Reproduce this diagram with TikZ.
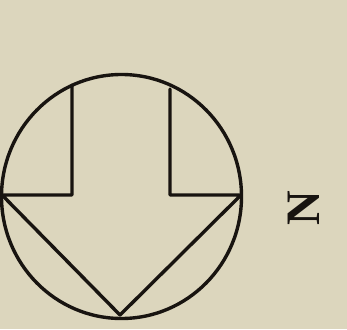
\documentclass[tikz,border=0pt]{standalone}
\usepackage{fontspec}
\setmainfont{Liberation Serif}
\definecolor{paper}{RGB}{220,214,189}
\definecolor{ink}{RGB}{24,20,16}
\begin{document}
\begin{tikzpicture}[x=1pt,y=-1pt,
  inkline/.style={draw=ink,line width=3.4pt,line join=round,line cap=round}]
\fill[paper] (0,0) rectangle (347,329);
\useasboundingbox (0,0) rectangle (347,329);
\draw[inkline] (121.5,196.5) ellipse [x radius=120, y radius=122];
\coordinate (lt) at (72,85);
\coordinate (lc) at (72,195);
\coordinate (le) at (2,195);
\coordinate (tip) at (120,315);
\coordinate (re) at (241,195);
\coordinate (rc) at (170,195);
\coordinate (rt) at (170,89);
\draw[inkline] (lt) -- (lc) -- (le) -- (tip) -- (re) -- (rc) -- (rt);
\node[text=ink,rotate=90,font=\fontsize{48}{48}\selectfont\bfseries,inner sep=0pt] (n) at (304,208) {N};
\end{tikzpicture}
\end{document}
